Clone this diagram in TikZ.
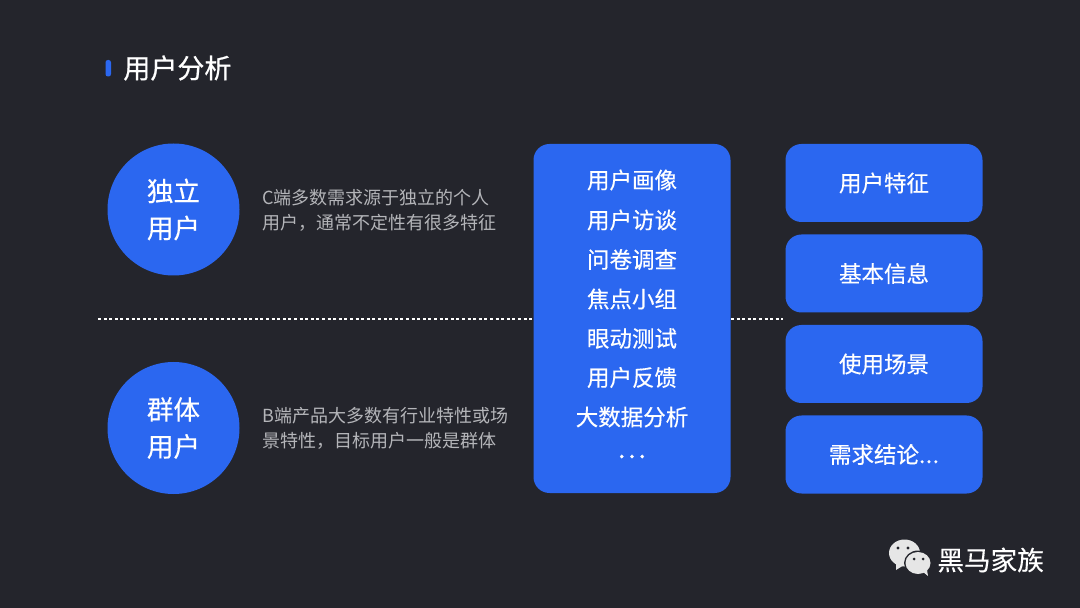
\documentclass[tikz,border=0pt]{standalone}
\usepackage{fontspec}
\setmainfont{Noto Sans CJK SC}
\newfontfamily\medfont[FakeBold=0.35]{Noto Sans CJK SC}
\newfontfamily\heavyfont[FakeBold=0.7]{Noto Sans CJK SC}
\definecolor{bgdark}{HTML}{24252C}
\definecolor{mainblue}{HTML}{2B67F0}
\definecolor{descgray}{HTML}{B4B5B9}
\definecolor{chatgray}{HTML}{E6E6E6}
\tikzset{
  usercircle/.style={circle,fill=mainblue,minimum size=66pt,inner sep=0pt,text=white,align=center,font=\medfont\fontsize{13.3}{18.5}\selectfont},
  desctext/.style={anchor=west,inner sep=0pt,text=descgray,align=left,font=\fontsize{9}{12.5}\selectfont},
  methodbox/.style={draw=none,fill=mainblue,rounded corners=8pt,minimum width=98.5pt,minimum height=174.5pt,inner sep=0pt},
  methodtext/.style={inner sep=0pt,text=white,font=\medfont\fontsize{11.25}{13}\selectfont},
  resultbox/.style={fill=mainblue,rounded corners=8pt,minimum width=98.5pt,minimum height=39pt,inner sep=0pt,text=white,font=\medfont\fontsize{11.25}{13}\selectfont},
  dotline/.style={white,line width=1pt,dash pattern=on 1.5pt off 1.3pt},
}
\begin{document}
\begin{tikzpicture}[x=0.5pt,y=-0.5pt]
\fill[bgdark] (0,0) rectangle (1080,608);
\useasboundingbox (0,0) rectangle (1080,608);
% Title
\fill[mainblue,rounded corners=1.2pt] (105.5,60) rectangle (111,76.5);
\node[inner sep=0pt,anchor=west,text=white,font=\heavyfont\fontsize{13.5}{16}\selectfont] (title) at (123,68) {用户分析};
% Left circles
\node[usercircle] (single) at (173.5,209.5) {独立\\用户};
\node[usercircle] (group) at (173.5,428) {群体\\用户};
\node[desctext] (singledesc) at (262,210.5) {C端多数需求源于独立的个人\\用户，通常不定性有很多特征};
\node[desctext] (groupdesc) at (262,428.5) {B端产品大多数有行业特性或场\\景特性，目标用户一般是群体};
% Middle block
\node[methodbox] (panel) at (632,318.5) {};
\coordinate (lineleft) at (98,319);
\coordinate (lineright) at (783,319);
\draw[dotline] (lineleft) -- (lineleft -| panel.west);
\draw[dotline] (lineright -| panel.east) -- (lineright);
\foreach \name/\ypos/\label in {a/180/用户画像,b/220/用户访谈,c/259.5/问卷调查,d/299/焦点小组,e/338.5/眼动测试,f/377.5/用户反馈,g/417/大数据分析}
  \node[methodtext] (m\name) at (632,\ypos) {\label};
\node[methodtext,anchor=base,font=\heavyfont\fontsize{13}{15}\selectfont] (mh) at (632,458) {.\kern1.5pt.\kern1.5pt.};
% Right blocks
\node[resultbox] (feature) at (884,183) {用户特征};
\node[resultbox] (basic) at (884,273.5) {基本信息};
\node[resultbox] (scene) at (884,364) {使用场景};
\node[resultbox] (need) at (884,454.5) {需求结论.\kern0.3pt.\kern0.3pt.};
% Footer logo
\fill[chatgray] (904.5,553) ellipse (15.5 and 13.5);
\fill[chatgray] (896,563) -- (896,570) -- (904,565) -- cycle;
\fill[bgdark] (918,563) ellipse (14 and 12.5);
\fill[chatgray] (918,563) ellipse (12.5 and 11);
\fill[chatgray] (923,572) -- (928,576) -- (927,570) -- cycle;
\fill[bgdark] (898,548) circle (1.7);
\fill[bgdark] (908,548) circle (1.7);
\fill[bgdark] (914,559) circle (1.5);
\fill[bgdark] (923,559) circle (1.5);
\node[inner sep=0pt,anchor=west,text=white,font=\medfont\fontsize{13.3}{16}\selectfont] (brand) at (937,560) {黑马家族};
\end{tikzpicture}
\end{document}
